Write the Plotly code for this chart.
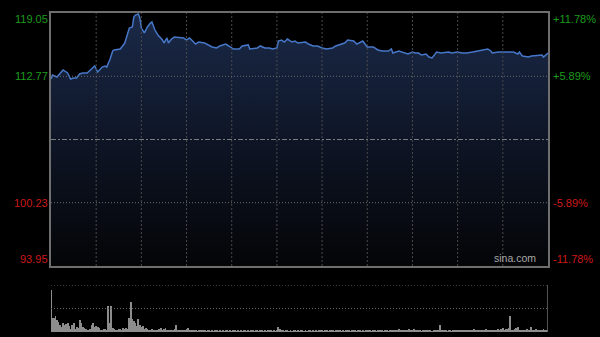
import plotly.graph_objects as go

# ---- data ----
prev_close = 106.50
y_ticks_left = ["119.05", "112.77", "100.23", "93.95"]
y_tick_vals = [119.05, 112.77, 100.23, 93.95]
y_ticks_right = ["+11.78%", "+5.89%", "-5.89%", "-11.78%"]

minutes = [0, 1, 4, 6, 8, 11, 13, 15, 17, 19, 21, 24, 27, 29, 31, 34, 36, 37, 39, 41,
           42, 46, 47, 49, 50, 52, 54, 55, 56, 58, 59, 60, 62, 64, 66, 67, 69, 71, 74, 75,
           77, 78, 80, 82, 88, 90, 92, 94, 96, 98, 102, 107, 110, 112, 116, 119, 121, 125, 127, 131,
           132, 137, 139, 142, 145, 147, 150, 151, 153, 155, 157, 160, 162, 164, 167, 169, 171, 174, 177, 180,
           183, 187, 189, 193, 195, 197, 201, 203, 207, 209, 210, 214, 217, 220, 224, 226, 227, 231, 235, 237,
           240, 242, 244, 246, 249, 251, 253, 256, 259, 262, 264, 266, 270, 273, 276, 280, 283, 286, 290, 292,
           293, 297, 301, 307, 310, 311, 313, 317, 319, 323, 326, 327, 330]
prices = [112.50, 112.90, 112.70, 113.00, 113.40, 113.10, 112.50, 112.60, 112.60, 113.00,
          113.10, 113.10, 113.49, 113.79, 113.20, 113.69, 113.79, 113.69, 114.39, 115.28,
          115.38, 115.48, 115.68, 116.07, 116.57, 117.56, 117.66, 118.65, 118.85, 118.95,
          118.55, 117.56, 117.07, 117.66, 118.06, 118.16, 117.36, 116.87, 116.37, 116.07,
          116.57, 116.07, 116.47, 116.67, 116.57, 116.37, 116.57, 116.27, 115.97, 116.17,
          116.07, 115.68, 115.58, 115.78, 115.97, 115.68, 115.48, 115.48, 115.78, 115.88,
          115.48, 115.58, 115.78, 115.58, 115.58, 115.48, 115.58, 116.27, 116.37, 116.17,
          116.47, 116.17, 116.27, 116.07, 116.17, 116.17, 115.97, 115.78, 115.78, 115.58,
          115.48, 115.58, 115.78, 115.97, 116.07, 116.37, 116.27, 115.97, 116.27, 115.88,
          115.68, 115.68, 115.38, 115.28, 115.28, 115.48, 115.08, 115.28, 115.08, 114.98,
          115.18, 115.08, 115.08, 114.88, 114.98, 114.68, 114.59, 115.18, 115.08, 115.18,
          115.18, 115.08, 115.18, 115.08, 115.08, 115.18, 115.28, 115.38, 115.48, 115.28,
          115.08, 115.18, 115.18, 115.18, 114.98, 115.18, 114.78, 114.68, 114.78, 114.88,
          114.88, 114.68, 115.08]

volume_open = [89, 30, 30, 34, 25, 21, 15, 11, 19, 15, 17, 19, 12, 7, 15, 19, 7, 11, 8, 26,
               19, 11, 9, 7, 5, 4, 6, 15, 19, 11, 13, 11, 9, 5, 4, 6, 7, 5, 55, 19,
               55, 9, 7, 4, 5, 7, 6, 4, 9, 7, 9, 7, 30, 64, 28, 23, 19, 12, 28, 15,
               11, 13, 7, 9]
volume_rest = [6, 5, 4, 6, 3, 5, 4, 3, 6, 8,
               5, 7, 9, 4, 3, 5, 4, 3, 6, 15,
               5, 4, 3, 5, 3, 4, 6, 8, 4, 3,
               5, 3, 4, 2, 3, 4, 3, 5, 3, 2,
               3, 4, 2, 3, 2, 3, 4, 2, 3, 2,
               3, 2, 4, 3, 2, 3, 2, 3, 4, 2,
               3, 2, 3, 2, 4, 3, 2, 3, 2, 3,
               4, 2, 3, 3, 2, 3, 4, 2, 3, 2,
               3, 4, 3, 2, 3, 2, 4, 11, 6, 4,
               3, 2, 4, 3, 2, 3, 2, 3, 4, 2,
               3, 2, 3, 4, 2, 3, 2, 4, 3, 2,
               3, 2, 3, 2, 3, 4, 3, 2, 3, 4,
               2, 3, 4, 3, 2, 5, 3, 4, 3, 2,
               3, 2, 4, 3, 5, 2, 3, 3, 4, 2,
               3, 4, 2, 3, 2, 3, 4, 5, 3, 2,
               4, 3, 2, 3, 4, 3, 3, 2, 4, 3,
               2, 4, 3, 3, 5, 4, 3, 6, 4, 3,
               4, 5, 3, 4, 6, 4, 5, 6, 3, 5,
               4, 3, 2, 4, 5, 3, 4, 3, 4, 2,
               3, 5, 4, 4, 15, 3, 5, 4, 3, 2,
               3, 4, 2, 3, 4, 5, 3, 4, 5, 3,
               4, 5, 3, 4, 3, 5, 4, 6, 3, 4,
               5, 4, 3, 5, 4, 6, 3, 4, 5, 4,
               3, 5, 4, 6, 4, 7, 8, 5, 6, 6,
               9, 34, 5, 4, 6, 8, 11, 5, 4, 3,
               5, 4, 6, 4, 5, 11, 5, 4, 6, 3,
               4, 5, 3, 6, 4, 5, 4]
volumes = volume_open + volume_rest
vol_minutes = list(range(len(volumes)))

# ---- style ----
GREEN = "#1c9c1c"
RED = "#cc1a1a"
BORDER = "#6e6e6e"
FONT = "Liberation Sans, Arial, sans-serif"
X_MAX = 330
Y_MIN, Y_MAX = 93.95, 119.05

fig = go.Figure()

# baseline for the fill
fig.add_trace(go.Scatter(x=[0, X_MAX], y=[Y_MIN, Y_MIN], mode="lines",
                         line=dict(width=0), hoverinfo="skip", showlegend=False,
                         xaxis="x", yaxis="y"))
fig.add_trace(go.Scatter(
    x=minutes, y=prices, mode="lines",
    line=dict(color="#4677c8", width=1.5),
    fill="tonexty",
    fillgradient=dict(type="vertical",
                      colorscale=[[0, "#040507"], [0.5, "#0e1526"], [1, "#1b2a49"]],
                      start=Y_MIN, stop=Y_MAX),
    showlegend=False, xaxis="x", yaxis="y"))

fig.add_trace(go.Bar(x=vol_minutes, y=volumes, width=0.6,
                     marker=dict(color="#8c8c8c", line=dict(width=0)),
                     showlegend=False, xaxis="x2", yaxis="y2"))

shapes = []
# vertical grid lines (every 30 minutes)
for m in range(30, X_MAX, 30):
    shapes.append(dict(type="line", xref="x", yref="y domain", x0=m, x1=m, y0=0, y1=1,
                       line=dict(color="#4a4a4a", width=1, dash="2px,2px"), layer="above"))
# horizontal dotted lines
for v in [112.77, 100.23]:
    shapes.append(dict(type="line", xref="x domain", yref="y", x0=0, x1=1, y0=v, y1=v,
                       line=dict(color="#6a6a6a", width=1, dash="1px,2px"), layer="above"))
# previous close line
shapes.append(dict(type="line", xref="x domain", yref="y", x0=0, x1=1, y0=prev_close, y1=prev_close,
                   line=dict(color="#7c7c7c", width=1, dash="5px,2px,2px,2px"), layer="above"))
# volume grid
for v in [100, 50]:
    shapes.append(dict(type="line", xref="x2 domain", yref="y2", x0=0, x1=1, y0=v, y1=v,
                       line=dict(color="#6a6a6a", width=1, dash="1px,2px"), layer="above"))
shapes.append(dict(type="line", xref="x2", yref="y2 domain", x0=X_MAX, x1=X_MAX, y0=0, y1=1,
                   line=dict(color=BORDER, width=1.5), layer="above"))

annotations = []
anchors = ["top", "middle", "middle", "bottom"]
shifts = [2, 0, 0, -1]
colors = [GREEN, GREEN, RED, RED]
for lab_l, lab_r, val, anc, sh, col in zip(y_ticks_left, y_ticks_right, y_tick_vals,
                                           anchors, shifts, colors):
    annotations.append(dict(x=0.083, xref="paper", y=val, yref="y", text=lab_l,
                            xanchor="right", yanchor=anc, yshift=sh, showarrow=False,
                            font=dict(family=FONT, size=11, color=col)))
    annotations.append(dict(x=0.918, xref="paper", y=val, yref="y", text=lab_r,
                            xanchor="left", yanchor=anc, yshift=sh, showarrow=False,
                            font=dict(family=FONT, size=11, color=col)))
annotations.append(dict(x=0.897, xref="paper", y=Y_MIN, yref="y", text="sina.com",
                        xanchor="right", yanchor="bottom", showarrow=False,
                        font=dict(family=FONT, size=10.5, color="#a8a8a8")))

X_DOM = [51 / 600, 548 / 600]
fig.update_layout(
    width=600, height=337, autosize=False,
    margin=dict(l=0, r=0, t=0, b=0, pad=0),
    paper_bgcolor="#000000", plot_bgcolor="#000000",
    showlegend=False, hovermode=False,
    xaxis=dict(domain=X_DOM, range=[0, X_MAX], showgrid=False, zeroline=False,
               showticklabels=False, ticks="", showline=True, mirror=True,
               linecolor=BORDER, linewidth=1.5, anchor="y"),
    yaxis=dict(domain=[71 / 337, 324 / 337], range=[Y_MIN, Y_MAX], showgrid=False,
               zeroline=False, showticklabels=False, ticks="", showline=True,
               mirror=True, linecolor=BORDER, linewidth=1.5, anchor="x"),
    xaxis2=dict(domain=X_DOM, range=[0, X_MAX], showgrid=False, zeroline=False,
                showticklabels=False, ticks="", showline=False, anchor="y2"),
    yaxis2=dict(domain=[5 / 337, 52 / 337], range=[0, 100], showgrid=False,
                zeroline=False, showticklabels=False, ticks="", showline=False, anchor="x2"),
    shapes=shapes,
    annotations=annotations,
    bargap=0,
)

fig.write_html("out.html")
